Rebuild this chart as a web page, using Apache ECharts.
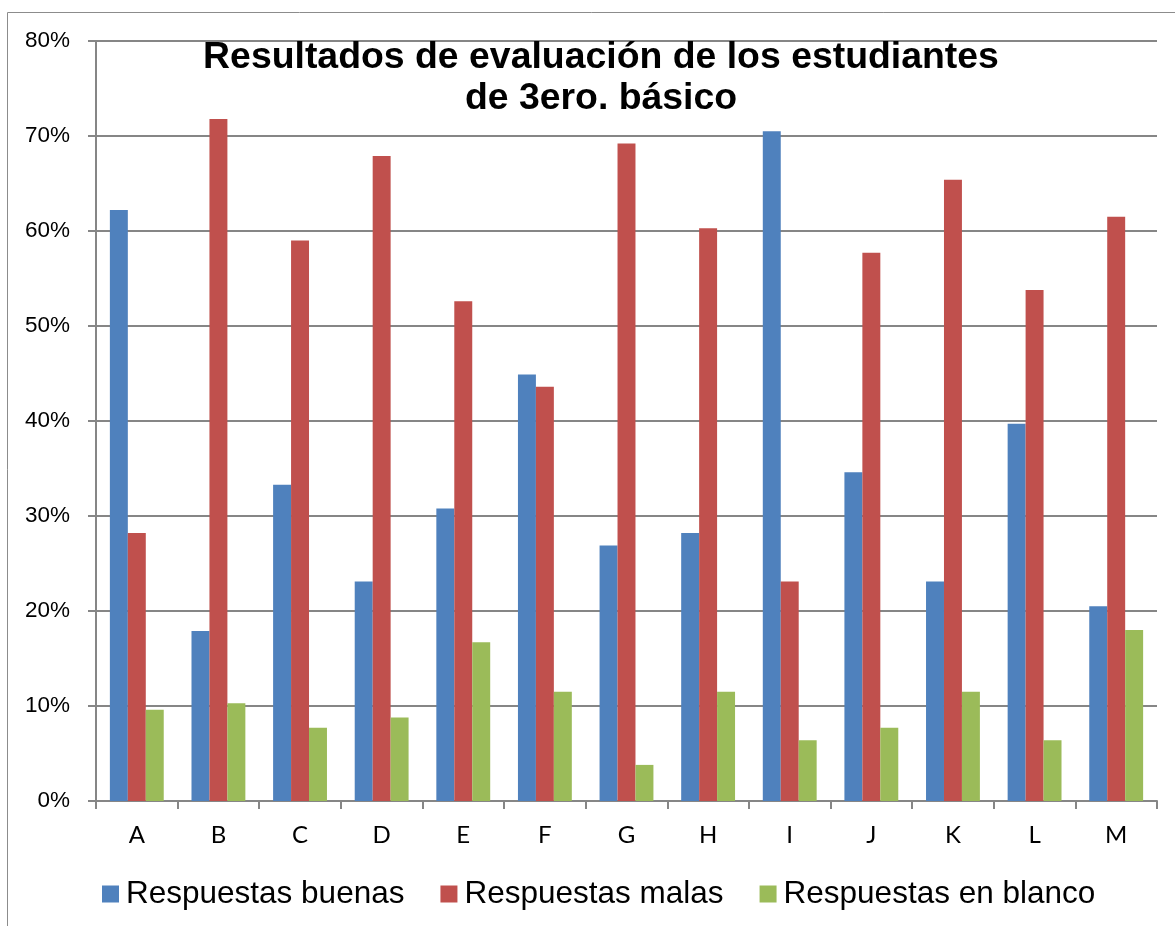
<!DOCTYPE html>
<html>
<head>
<meta charset="utf-8">
<script src="https://cdn.jsdelivr.net/npm/echarts@6/dist/echarts.min.js"></script>
<style>
  html, body { margin: 0; padding: 0; background: #fff; }
  #chart { width: 1175px; height: 926px; }
</style>
</head>
<body>
<div id="chart"></div>
<script>
// data
var categories = ['A', 'B', 'C', 'D', 'E', 'F', 'G', 'H', 'I', 'J', 'K', 'L', 'M'];
var buenas = [62.2, 17.9, 33.3, 23.1, 30.8, 44.9, 26.9, 28.2, 70.5, 34.6, 23.1, 39.7, 20.5];
var malas  = [28.2, 71.8, 59.0, 67.9, 52.6, 43.6, 69.2, 60.3, 23.1, 57.7, 65.4, 53.8, 61.5];
var blanco = [9.6, 10.3, 7.7, 8.8, 16.7, 11.5, 3.8, 11.5, 6.4, 7.7, 11.5, 6.4, 18.0];
var seriesNames = ['Respuestas buenas', 'Respuestas malas', 'Respuestas en blanco'];
var colors = ['#4F81BD', '#C0504D', '#9BBB59'];

var gridColor = '#868686';

function barSeries(i, data) {
  return {
    name: seriesNames[i],
    type: 'bar',
    data: data,
    barGap: '0%',
    barCategoryGap: '34%',
    itemStyle: { color: colors[i] }
  };
}

var chart = echarts.init(document.getElementById('chart'));
chart.setOption({
  animation: false,
  color: colors,
  title: {
    text: 'Resultados de evaluación de los estudiantes\nde 3ero. básico',
    left: 596,
    top: 32,
    textAlign: 'center',
    textStyle: {
      fontFamily: 'Liberation Sans, Arial, sans-serif',
      fontWeight: 'bold',
      fontSize: 37.4,
      lineHeight: 41,
      color: '#000'
    }
  },
  graphic: [{
    type: 'rect',
    shape: { x: 7.5, y: 12.5, width: 1200, height: 1000 },
    style: { fill: null, stroke: '#8c8c8c', lineWidth: 1 },
    silent: true,
    z: -1
  }],
  legend: {
    data: seriesNames,
    left: 97,
    top: 873,
    icon: 'rect',
    itemWidth: 17,
    itemHeight: 17,
    itemGap: 36,
    textStyle: {
      fontFamily: 'Liberation Sans, Arial, sans-serif',
      fontSize: 31.5,
      padding: [0, 0, 0, 2],
      color: '#000'
    }
  },
  grid: {
    left: 96,
    right: 18,
    top: 41,
    bottom: 125,
    containLabel: false
  },
  xAxis: {
    type: 'category',
    data: categories,
    axisLine: { show: true, lineStyle: { color: gridColor, width: 2 } },
    axisTick: { show: true, alignWithLabel: false, length: 8, lineStyle: { color: gridColor, width: 2 } },
    axisLabel: {
      margin: 22,
      fontFamily: 'Lato, sans-serif',
      fontSize: 24,
      color: '#000'
    }
  },
  yAxis: {
    type: 'value',
    min: 0,
    max: 80,
    interval: 10,
    axisLine: { show: true, lineStyle: { color: gridColor, width: 2 } },
    axisTick: { show: true, length: 8, lineStyle: { color: gridColor, width: 2 } },
    splitLine: { show: true, lineStyle: { color: gridColor, width: 2 } },
    axisLabel: {
      margin: 26,
      formatter: '{value}%',
      fontFamily: 'Liberation Sans, Arial, sans-serif',
      fontSize: 22.5,
      color: '#000'
    }
  },
  series: [
    barSeries(0, buenas),
    barSeries(1, malas),
    barSeries(2, blanco)
  ]
});
</script>
</body>
</html>
